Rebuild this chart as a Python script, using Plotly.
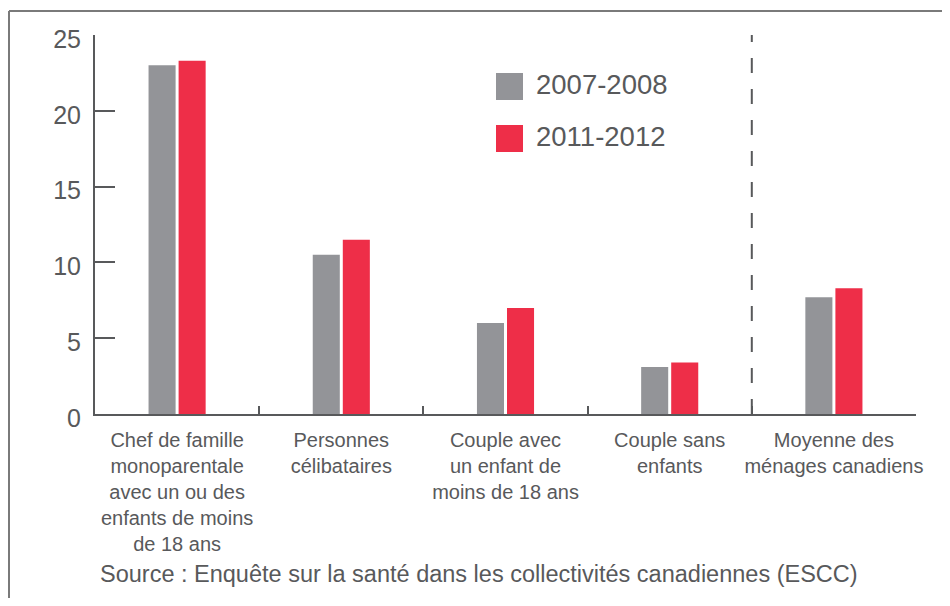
import plotly.graph_objects as go

# --- data ---
CATEGORIES = [
    "Chef de famille<br>monoparentale<br>avec un ou des<br>enfants de moins<br>de 18 ans",
    "Personnes<br>célibataires",
    "Couple avec<br>un enfant de<br>moins de 18 ans",
    "Couple sans<br>enfants",
    "Moyenne des<br>ménages canadiens",
]
VALS_2007 = [23.0, 10.5, 6.0, 3.1, 7.7]
VALS_2011 = [23.3, 11.5, 7.0, 3.4, 8.3]
SERIES_NAMES = ["2007-2008", "2011-2012"]
Y_TICKS = [0, 5, 10, 15, 20, 25]
SOURCE = "Source : Enquête sur la santé dans les collectivités canadiennes (ESCC)"

GRAY = "#939498"
RED = "#ee2e48"
INK = "#58595b"
FONT = "Liberation Sans, Arial, sans-serif"

# page has an 8px body margin; figure is sized to fit inside the window
OFF = 8
FIG_W, FIG_H = 950 - 2 * OFF, 606 - 2 * OFF
# plot area in page pixels
L, R, T, B = 95, 916, 35, 414
W, H = R - L, B - T


def px(x):
    return (x - L) / W


def py(y):
    return (B - y) / H


fig = go.Figure()
fig.add_trace(go.Bar(x=CATEGORIES, y=VALS_2007, name=SERIES_NAMES[0],
                     marker=dict(color=GRAY, line=dict(width=0)), showlegend=False))
fig.add_trace(go.Bar(x=CATEGORIES, y=VALS_2011, name=SERIES_NAMES[1],
                     marker=dict(color=RED, line=dict(width=0)), showlegend=False))

shapes = []
# outer frame (top + left only visible)
shapes.append(dict(type="line", xref="paper", yref="paper",
                   x0=px(9), x1=px(960), y0=py(11), y1=py(11),
                   line=dict(color="#7a7a7a", width=2)))
shapes.append(dict(type="line", xref="paper", yref="paper",
                   x0=px(9), x1=px(9), y0=py(11), y1=py(620),
                   line=dict(color="#7a7a7a", width=2)))
# dashed separator before the average
shapes.append(dict(type="line", xref="x", yref="y", x0=3.5, x1=3.5, y0=0, y1=25,
                   line=dict(color=INK, width=2, dash="15px,16px")))

annotations = []
# custom legend
for i, (name, col) in enumerate(zip(SERIES_NAMES, [GRAY, RED])):
    top = 73 + i * 52
    shapes.append(dict(type="rect", xref="paper", yref="paper",
                       x0=px(496), x1=px(523), y0=py(top + 27), y1=py(top),
                       fillcolor=col, line=dict(width=0)))
    annotations.append(dict(text=name, xref="paper", yref="paper",
                            x=px(534), y=py(top + 11), xanchor="left", yanchor="middle",
                            showarrow=False, font=dict(size=27.5, color=INK, family=FONT)))

annotations.append(dict(text=SOURCE, xref="paper", yref="paper",
                        x=px(479), y=py(574), xanchor="center", yanchor="middle",
                        showarrow=False, font=dict(size=23.5, color=INK, family=FONT)))

fig.update_layout(
    width=FIG_W, height=FIG_H,
    margin=dict(l=L - OFF, r=FIG_W + OFF - R, t=T - OFF, b=FIG_H + OFF - B),
    paper_bgcolor="white", plot_bgcolor="white",
    barmode="group", bargap=0.634, bargroupgap=0.1,
    font=dict(family=FONT, color=INK),
    shapes=shapes, annotations=annotations,
    xaxis=dict(
        showline=True, linecolor=INK, linewidth=2,
        ticks="inside", ticklen=8, tickwidth=2, tickcolor=INK,
        tickson="boundaries", showgrid=False, tickangle=0,
        tickfont=dict(size=20, color=INK, family=FONT),
        ticklabelstandoff=7, fixedrange=True,
    ),
    yaxis=dict(
        range=[0, 25], tickvals=Y_TICKS, showline=True, linecolor=INK, linewidth=2,
        ticks="inside", ticklen=20, tickwidth=2, tickcolor=INK,
        showgrid=False, zeroline=False,
        tickfont=dict(size=25, color=INK, family=FONT),
        ticklabelstandoff=7, ticklabelshift=4, fixedrange=True,
    ),
)

fig.write_html("out.html")
